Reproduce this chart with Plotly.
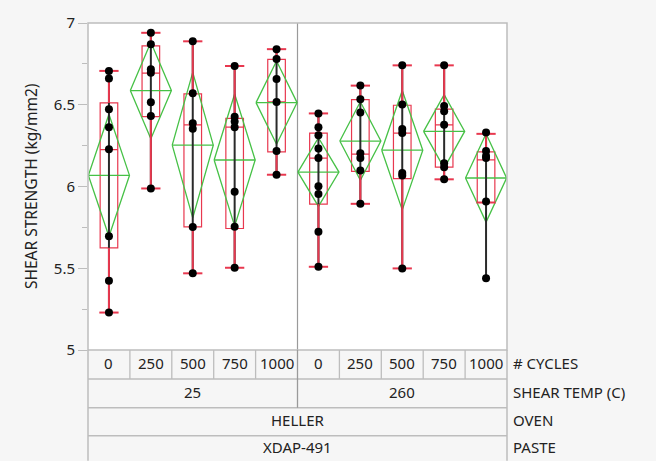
import plotly.graph_objects as go

# Shear strength by cycle count and shear temperature (HELLER oven, XDAP-491 paste)
cycles = ["0", "250", "500", "750", "1000", "0", "250", "500", "750", "1000"]
shear_temps = ["25", "260"]
oven = "HELLER"
paste = "XDAP-491"

strength = [
    [6.707, 6.660, 6.473, 6.363, 6.228, 5.695, 5.423, 5.229],
    [6.940, 6.870, 6.717, 6.696, 6.515, 6.431, 5.988],
    [6.888, 6.571, 6.387, 6.353, 5.753, 5.469],
    [6.737, 6.427, 6.397, 6.363, 5.968, 5.754, 5.503],
    [6.840, 6.780, 6.657, 6.517, 6.217, 6.072],
    [6.447, 6.363, 6.313, 6.232, 6.174, 6.002, 5.954, 5.723, 5.509],
    [6.617, 6.533, 6.453, 6.204, 6.174, 6.098, 5.894],
    [6.741, 6.501, 6.351, 6.327, 6.082, 6.068, 5.499],
    [6.741, 6.493, 6.461, 6.377, 6.142, 6.118, 6.044],
    [6.331, 6.217, 6.187, 6.174, 5.908, 5.439],
]

# Box-plot summaries per cell
box_q1 = [5.625, 6.427, 5.753, 5.743, 6.212, 5.892, 6.092, 6.048, 6.118, 5.902]
box_median = [6.226, 6.693, 6.377, 6.363, 6.517, 6.174, 6.198, 6.327, 6.377, 6.163]
box_q3 = [6.511, 6.860, 6.567, 6.417, 6.777, 6.327, 6.531, 6.497, 6.473, 6.212]
whisker_low = [5.229, 5.988, 5.469, 5.503, 6.072, 5.509, 5.894, 5.499, 6.044, 5.902]
whisker_high = [6.707, 6.940, 6.888, 6.737, 6.840, 6.447, 6.617, 6.741, 6.741, 6.322]

# Mean diamonds: group mean and confidence half-width
group_mean = [6.068, 6.587, 6.253, 6.162, 6.513, 6.088, 6.278, 6.222, 6.337, 6.052]
ci_half = [0.374, 0.295, 0.445, 0.404, 0.255, 0.210, 0.240, 0.365, 0.225, 0.270]

RED = "#e8384f"
GREEN = "#46c146"
FRAME = "#bdbdbd"
DARK_DIV = "#9a9a9a"
TEXT = "#222222"
FONT = "Noto Sans"

W, H = 656, 461
M_L, M_R, M_T, M_B = 87.5, 149, 16, 111
plot_h = H - M_T - M_B

n = len(cycles)
centers = [i + 0.5 for i in range(n)]
BOX_W = 0.42
CAP_W = 0.46

fig = go.Figure()

# Red box outlines and medians (whiskers drawn separately on top)
fig.add_trace(go.Box(
    x=centers, q1=box_q1, median=box_median, q3=box_q3,
    lowerfence=box_q1, upperfence=box_q3,
    width=BOX_W, whiskerwidth=0,
    line=dict(color=RED, width=1.2), fillcolor="rgba(0,0,0,0)",
    boxpoints=False, hoverinfo="skip", showlegend=False,
))

# Green mean diamonds with mean line
dx, dy = [], []
for c, m, h in zip(centers, group_mean, ci_half):
    dx += [c - 0.49, c, c + 0.49, c, c - 0.49, None, c - 0.49, c + 0.49, None]
    dy += [m, m + h, m, m - h, m, None, m, m, None]
fig.add_trace(go.Scatter(x=dx, y=dy, mode="lines",
                         line=dict(color=GREEN, width=1.3),
                         hoverinfo="skip", showlegend=False))

# Black range bars (min to max per cell)
rx, ry = [], []
for c, vals in zip(centers, strength):
    rx += [c, c, None]
    ry += [min(vals), max(vals), None]
fig.add_trace(go.Scatter(x=rx, y=ry, mode="lines",
                         line=dict(color="#2a2a2a", width=2.0),
                         hoverinfo="skip", showlegend=False))

# Red whiskers and caps
wx, wy = [], []
for c, lo, q1, q3, hi in zip(centers, whisker_low, box_q1, box_q3, whisker_high):
    wx += [c, c, None, c, c, None]
    wy += [q3, hi, None, q1, lo, None]
    for v in (lo, hi):
        wx += [c - CAP_W / 2, c + CAP_W / 2, None]
        wy += [v, v, None]
fig.add_trace(go.Scatter(x=wx, y=wy, mode="lines",
                         line=dict(color=RED, width=2.0),
                         hoverinfo="skip", showlegend=False))

# Individual measurements
px_, py_ = [], []
for c, vals in zip(centers, strength):
    px_ += [c] * len(vals)
    py_ += vals
fig.add_trace(go.Scatter(x=px_, y=py_, mode="markers",
                         marker=dict(color="black", size=8),
                         showlegend=False))


def paper_y(pix):
    """Convert a pixel row below the plot to paper coordinates."""
    return (H - M_B - pix) / plot_h


shapes = []
row_edges = [350, 379.5, 409, 437.7, H + 2]
bottom = paper_y(H + 2)

# Divider between shear temperatures inside the plot
shapes.append(dict(type="line", xref="x", yref="paper", x0=5, x1=5, y0=0, y1=1,
                   line=dict(color=DARK_DIV, width=1.2), layer="below"))
# Frame of the plot area
shapes.append(dict(type="rect", xref="paper", yref="paper", x0=0, x1=1, y0=0, y1=1,
                   line=dict(color=FRAME, width=1.5)))
# Table horizontal rules
for e in row_edges[1:-1]:
    shapes.append(dict(type="line", xref="paper", yref="paper", x0=0, x1=1,
                       y0=paper_y(e), y1=paper_y(e), line=dict(color=FRAME, width=1.5)))
# Table outer verticals
for xv in (0, 1):
    shapes.append(dict(type="line", xref="paper", yref="paper", x0=xv, x1=xv,
                       y0=bottom, y1=0, line=dict(color=FRAME, width=1.5)))
# Cycle cell separators
for i in range(1, n):
    col = DARK_DIV if i == 5 else FRAME
    y_low = paper_y(row_edges[2]) if i == 5 else paper_y(row_edges[1])
    shapes.append(dict(type="line", xref="x", yref="paper", x0=i, x1=i,
                       y0=y_low, y1=0, line=dict(color=col, width=1.3)))

annotations = []
row_mid = [paper_y((row_edges[k] + row_edges[k + 1]) / 2 - 1.5) for k in range(3)]
row_mid.append(paper_y((row_edges[3] + H) / 2 - 0.5))

cell_font = dict(size=15, color=TEXT, family=FONT)
for c, lab in zip(centers, cycles):
    annotations.append(dict(text=lab, x=c, y=row_mid[0], xref="x", yref="paper",
                            xanchor="center", yanchor="middle",
                            showarrow=False, font=cell_font))
for k, lab in enumerate(shear_temps):
    annotations.append(dict(text=lab, x=2.5 + 5 * k, y=row_mid[1], xref="x", yref="paper",
                            xanchor="center", yanchor="middle",
                            showarrow=False, font=cell_font))
annotations.append(dict(text=oven, x=5, y=row_mid[2], xref="x", yref="paper",
                        xanchor="center", yanchor="middle",
                        showarrow=False, font=cell_font))
annotations.append(dict(text=paste, x=5, y=row_mid[3], xref="x", yref="paper",
                        xanchor="center", yanchor="middle",
                        showarrow=False, font=cell_font))

for lab, ym in zip(["# CYCLES", "SHEAR TEMP (C)", "OVEN", "PASTE"], row_mid):
    annotations.append(dict(text=lab, x=1, y=ym, xref="paper", yref="paper",
                            xanchor="left", yanchor="middle", xshift=4, showarrow=False,
                            font=dict(size=15, color=TEXT, family=FONT)))

annotations.append(dict(text="SHEAR STRENGTH (kg/mm2)", x=0, y=0.5, xref="paper",
                        yref="paper", xanchor="center", yanchor="middle",
                        xshift=-57.5, textangle=-90, showarrow=False,
                        font=dict(size=15.5, color=TEXT, family=FONT)))

fig.update_layout(
    width=W, height=H,
    margin=dict(l=M_L, r=M_R, t=M_T, b=M_B, pad=0),
    paper_bgcolor="#f6f6f6", plot_bgcolor="white",
    xaxis=dict(range=[0, n], showgrid=False, zeroline=False, showticklabels=False,
               ticks="", showline=False, fixedrange=True),
    yaxis=dict(range=[5, 7], showgrid=False, zeroline=False,
               tickvals=[5, 5.5, 6, 6.5, 7], ticktext=["5", "5.5", "6", "6.5", "7"],
               ticks="outside", ticklen=9, tickcolor=FRAME, tickwidth=1.3,
               minor=dict(tickvals=[5.25, 5.75, 6.25, 6.75], ticks="outside",
                          ticklen=5, tickcolor=FRAME),
               tickfont=dict(size=15, color=TEXT, family=FONT),
               showline=False, fixedrange=True),
    shapes=shapes,
    annotations=annotations,
    showlegend=False,
)

fig.write_html("out.html")
